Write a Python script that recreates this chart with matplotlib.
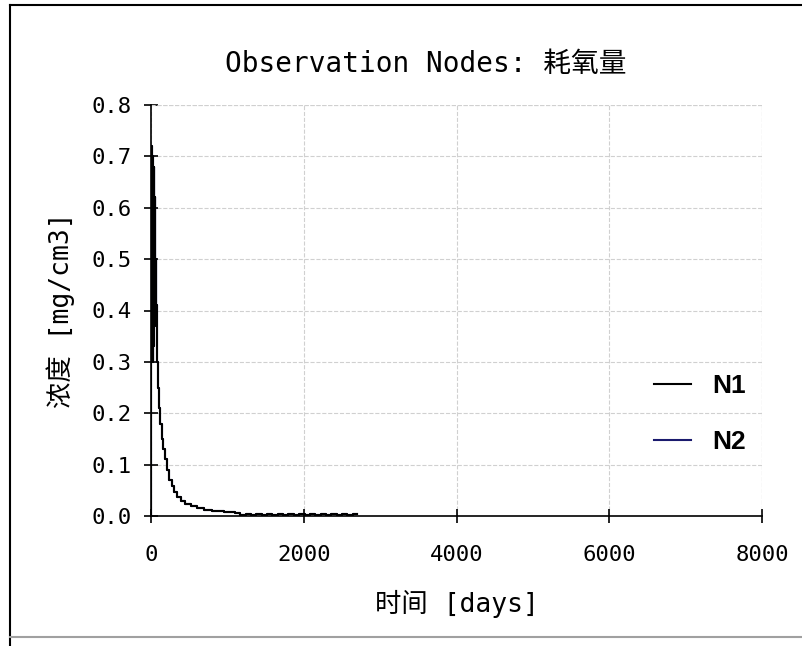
import matplotlib
matplotlib.use("Agg")
import matplotlib.pyplot as plt
from matplotlib.lines import Line2D

# ── data ────────────────────────────────────────────────────────────────────
TIME_N1 = [0, 4, 8, 11, 14, 17, 20, 23, 26, 29, 32, 35, 38, 41, 44, 47, 50,
           53, 56, 59, 62, 65, 75, 90, 105, 120, 140, 160, 185, 210, 240,
           270, 300, 340, 390, 450, 520, 600, 700, 800, 950, 1100,
           1170, 1240, 1310, 1380, 1450, 1520, 1590, 1660, 1730, 1800,
           1870, 1940, 2010, 2080, 2150, 2220, 2290, 2360, 2430, 2500,
           2570, 2640, 2700]
CONC_N1 = [0.0, 0.72, 0.34, 0.71, 0.31, 0.70, 0.30, 0.70, 0.32, 0.69, 0.33,
           0.68, 0.35, 0.66, 0.37, 0.62, 0.39, 0.56, 0.40, 0.50, 0.41, 0.41,
           0.30, 0.25, 0.21, 0.18, 0.15, 0.13, 0.11, 0.09, 0.07, 0.058,
           0.047, 0.037, 0.030, 0.024, 0.019, 0.015, 0.011, 0.009, 0.007,
           0.005, 0.0025, 0.004, 0.0025, 0.004, 0.0025, 0.004, 0.0025, 0.004,
           0.0025, 0.004, 0.0025, 0.004, 0.0025, 0.004, 0.0025, 0.004, 0.0025,
           0.004, 0.0025, 0.004, 0.0025, 0.004, 0.003]
TIME_N2 = TIME_N1
CONC_N2 = CONC_N1

X_TICKS = [0, 2000, 4000, 6000, 8000]
Y_TICKS = [0.0, 0.1, 0.2, 0.3, 0.4, 0.5, 0.6, 0.7, 0.8]

TITLE = "Observation Nodes: 耗氧量"
XLABEL = "时间 [days]"
YLABEL = "浓度 [mg/cm3]"
# ─────────────────────────────────────────────────────────────────────────────

FONT = ["DejaVu Sans Mono", "Noto Sans CJK SC"]
plt.rcParams["font.family"] = FONT

fig = plt.figure(figsize=(8.02, 6.46), dpi=100)

# outer frame of the screenshot: black top/left, grey bottom
fig.lines.append(Line2D([10 / 802, 1.0], [1 - 5 / 646, 1 - 5 / 646],
                        transform=fig.transFigure, color="black", linewidth=1.5))
fig.lines.append(Line2D([10 / 802, 10 / 802], [1 - 5 / 646, 0.0],
                        transform=fig.transFigure, color="black", linewidth=1.5))
fig.lines.append(Line2D([10 / 802, 1.0], [1 - 637 / 646, 1 - 637 / 646],
                        transform=fig.transFigure, color="#a0a0a0", linewidth=1.5))

ax = fig.add_axes([151 / 802, 1 - 516 / 646, 611 / 802, 411 / 646])

ax.plot(TIME_N2, CONC_N2, color="#1a1a6e", linewidth=1.5,
        drawstyle="steps-post", label="N2")
ax.plot(TIME_N1, CONC_N1, color="black", linewidth=1.5,
        drawstyle="steps-post", label="N1", zorder=3)

ax.set_xlim(0, 8000)
ax.set_ylim(0, 0.8)
ax.set_xticks(X_TICKS)
ax.set_yticks(Y_TICKS)
ax.set_yticklabels([f"{v:.1f}" for v in Y_TICKS])
ax.tick_params(direction="inout", length=10, width=1.2, labelsize=16,
               colors="black")
ax.tick_params(axis="x", pad=16)
ax.tick_params(axis="y", pad=9)

for side in ("top", "right"):
    ax.spines[side].set_visible(False)
for side in ("left", "bottom"):
    ax.spines[side].set_linewidth(1.2)

ax.grid(True, color="#d0d0d0", linestyle="--", linewidth=0.8)
ax.axvline(8000, color="#d0d0d0", linestyle="--", linewidth=0.8)
ax.axhline(0.8, color="#d0d0d0", linestyle="--", linewidth=0.8)

ax.set_title(TITLE, fontsize=20, pad=24, x=0.45)
ax.set_xlabel(XLABEL, fontsize=19, labelpad=18)
ax.set_ylabel(YLABEL, fontsize=19, labelpad=12)

handles, labels = ax.get_legend_handles_labels()
ax.legend(handles[::-1], labels[::-1], loc="center left",
          bbox_to_anchor=(0.785, 0.248), frameon=False, handlelength=1.4,
          handletextpad=0.8, labelspacing=1.2,
          prop={"family": "Liberation Sans", "weight": "bold", "size": 19})

plt.savefig("out.png", dpi=100)
plt.close()
